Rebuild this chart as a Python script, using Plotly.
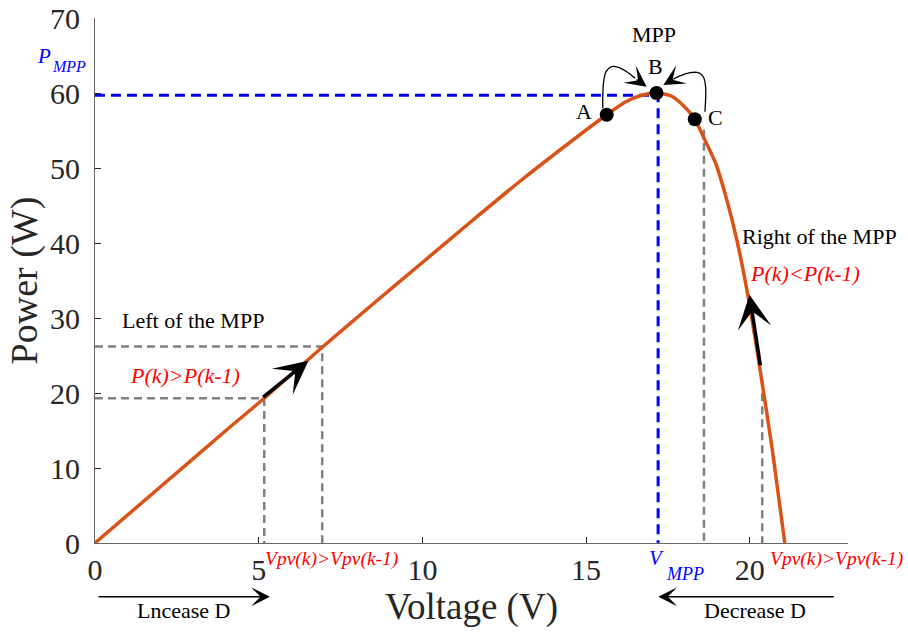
import plotly.graph_objects as go

# ---- data ----
voltage = [0, 2.0, 4.0, 5.17, 6.94, 8.5, 10.0, 11.5, 13.0, 14.59, 15.63, 16.2, 16.7, 17.15,
           17.6, 18.0, 18.32, 18.6, 18.96, 19.27, 19.6, 19.93, 20.3, 20.69, 21.07]
power = [0, 7.5, 15.0, 19.3, 26.1, 31.9, 37.4, 42.9, 48.3, 53.7, 57.1, 58.8, 59.7, 60.0,
         59.6, 58.2, 56.5, 54.0, 50.6, 46.2, 40.5, 33.3, 23.5, 12.4, 0]

pt_labels = ["A", "B", "C"]
pt_v = [15.63, 17.15, 18.32]
pt_p = [57.1, 60.0, 56.5]

v_mpp = 17.2
p_mpp = 59.7

# left-of-MPP operating points (k-1, k)
left_v = [5.17, 6.94]
left_p = [19.3, 26.2]
# right-of-MPP operating points
right_v = [18.6, 20.38]
right_p = [55.1, 21.7]

# thick arrows along the curve: (tail_v, tail_p, tip_v, tip_p)
arrow_left = [5.09, 19.3, 6.52, 24.3]
arrow_right = [20.33, 23.5, 19.99, 33.1]

# curved arrows A->B and C->B
curveA_v = [15.51, 15.53, 15.61, 15.78, 15.98, 16.24, 16.50]
curveA_p = [57.96, 61.29, 62.84, 63.51, 63.43, 62.84, 61.96]
tipA = [16.85, 60.84]
curveC_v = [18.63, 18.65, 18.58, 18.43, 18.18, 17.87, 17.66]
curveC_p = [57.51, 60.84, 62.17, 62.71, 62.71, 62.27, 61.83]
tipC = [17.36, 61.07]

x_ticks = [0, 5, 10, 15, 20]
y_ticks = [0, 10, 20, 30, 40, 50, 60, 70]

SERIF = "Liberation Serif, Times New Roman, serif"
ORANGE = "#D95319"
GRAY = "#808080"
BLUE = "#0000FF"
RED = "#FF0000"

fig = go.Figure()

# blue MPP guide lines
fig.add_trace(go.Scatter(x=[0, v_mpp, v_mpp], y=[p_mpp, p_mpp, 0], mode="lines",
                         line=dict(color=BLUE, width=3, dash="10px,6px"), hoverinfo="skip"))
# gray guides left
for v, p in zip(left_v, left_p):
    fig.add_trace(go.Scatter(x=[0, v, v], y=[p, p, 0], mode="lines",
                             line=dict(color=GRAY, width=2.5, dash="8px,5px"), hoverinfo="skip"))
# gray guides right
for v, p in zip(right_v, right_p):
    fig.add_trace(go.Scatter(x=[v, v], y=[p, 0], mode="lines",
                             line=dict(color=GRAY, width=2.5, dash="8px,5px"), hoverinfo="skip"))

# P-V curve
fig.add_trace(go.Scatter(x=voltage, y=power, mode="lines",
                         line=dict(color=ORANGE, width=3.5, shape="spline", smoothing=0.6)))

# curved arrow bodies
fig.add_trace(go.Scatter(x=curveA_v, y=curveA_p, mode="lines",
                         line=dict(color="black", width=1.3, shape="spline")))
fig.add_trace(go.Scatter(x=curveC_v, y=curveC_p, mode="lines",
                         line=dict(color="black", width=1.3, shape="spline")))

# points A B C
fig.add_trace(go.Scatter(x=pt_v, y=pt_p, mode="markers",
                         marker=dict(color="black", size=14)))

annotations = []
# thick arrows
for a in (arrow_left, arrow_right):
    annotations.append(dict(x=a[2], y=a[3], ax=a[0], ay=a[1], xref="x", yref="y",
                            axref="x", ayref="y", showarrow=True, arrowhead=3,
                            arrowwidth=3.5, arrowsize=1.6, arrowcolor="black", text=""))
# heads of curved arrows
annotations.append(dict(x=tipA[0], y=tipA[1], ax=curveA_v[-1], ay=curveA_p[-1], xref="x", yref="y",
                        axref="x", ayref="y", showarrow=True, arrowhead=3, arrowwidth=1.3,
                        arrowsize=2.7, arrowcolor="black", text=""))
annotations.append(dict(x=tipC[0], y=tipC[1], ax=curveC_v[-1], ay=curveC_p[-1], xref="x", yref="y",
                        axref="x", ayref="y", showarrow=True, arrowhead=3, arrowwidth=1.3,
                        arrowsize=2.7, arrowcolor="black", text=""))
# duty-cycle arrows below the axis (paper coordinates, tail offset in pixels)
annotations.append(dict(x=0.2324, y=-0.1023, ax=-173, ay=0, xref="paper", yref="paper",
                        axref="pixel", ayref="pixel", showarrow=True, arrowhead=3,
                        arrowwidth=1.5, arrowsize=2.1, arrowcolor="black", text=""))
annotations.append(dict(x=0.7481, y=-0.1023, ax=177, ay=0, xref="paper", yref="paper",
                        axref="pixel", ayref="pixel", showarrow=True, arrowhead=3,
                        arrowwidth=1.5, arrowsize=2.1, arrowcolor="black", text=""))


def txt(x, y, s, size=22, color="black", italic=False, ref="data"):
    r = ("x", "y") if ref == "data" else ("paper", "paper")
    annotations.append(dict(x=x, y=y, xref=r[0], yref=r[1], text=s, showarrow=False,
                            xanchor="center", yanchor="middle",
                            font=dict(family=SERIF, size=size, color=color,
                                      style="italic" if italic else "normal")))


txt(17.07, 67.8, "MPP")
txt(17.13, 63.6, pt_labels[1])
txt(14.94, 57.6, pt_labels[0])
txt(18.94, 56.8, pt_labels[2])
txt(2.99, 29.7, "Left of the MPP")
txt(2.75, 22.4, "P(k)>P(k-1)", color=RED, italic=True)
txt(22.14, 40.9, "Right of the MPP")
txt(21.69, 36.0, "P(k)<P(k-1)", color=RED, italic=True)
txt(0.3147, -0.0305, "Vpv(k)>Vpv(k-1)", size=19.5, color=RED, italic=True, ref="paper")
txt(0.9841, -0.0305, "Vpv(k)>Vpv(k-1)", size=19.5, color=RED, italic=True, ref="paper")
txt(-0.0677, 0.9276, "P", size=21, color=BLUE, italic=True, ref="paper")
txt(-0.0345, 0.9067, "MPP", size=16, color=BLUE, italic=True, ref="paper")
txt(0.7463, -0.0286, "V", size=21, color=BLUE, italic=True, ref="paper")
txt(0.7835, -0.059, "MPP", size=18, color=BLUE, italic=True, ref="paper")
txt(0.1175, -0.1295, "Lncease D", ref="paper")
txt(0.8765, -0.1295, "Decrease D", ref="paper")

axis_common = dict(showline=True, linecolor="#666666", linewidth=1.2, ticks="inside",
                   ticklen=6, tickcolor="#262626", tickwidth=1, showgrid=False, zeroline=False,
                   automargin=False,
                   tickfont=dict(family=SERIF, size=30, color="#262626"))

fig.update_layout(
    width=908, height=639,
    margin=dict(l=95, r=60, t=18, b=96),
    plot_bgcolor="white", paper_bgcolor="white",
    showlegend=False,
    annotations=annotations,
    xaxis=dict(range=[0, 23], tickvals=x_ticks, ticktext=[str(t) for t in x_ticks],
               title=dict(text="Voltage (V)", font=dict(family=SERIF, size=37, color="#262626"),
                          standoff=4),
               **axis_common),
    yaxis=dict(range=[0, 70], tickvals=y_ticks, ticktext=[str(t) for t in y_ticks],
               ticklabelstandoff=8,
               title=dict(text="Power (W)", font=dict(family=SERIF, size=38, color="#262626"),
                          standoff=0),
               **axis_common),
)

fig.write_html("out.html")
